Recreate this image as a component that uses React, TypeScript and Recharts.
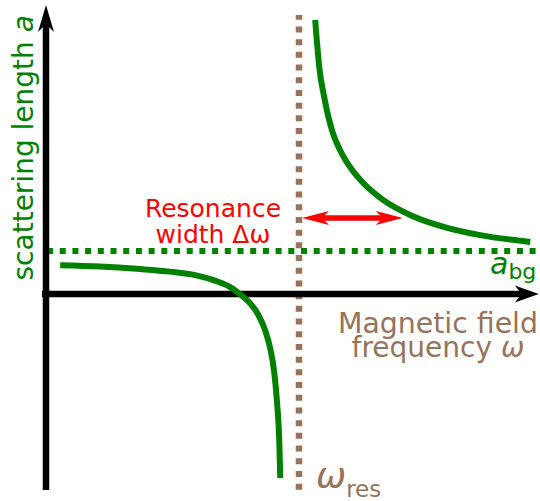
import { LineChart, Line, XAxis, YAxis, ReferenceLine, ReferenceDot } from "recharts";

const GREEN = "#008000";
const BROWN = "#96735a";
const RED = "#ff0000";
const FONT = "DejaVu Sans, Verdana, sans-serif";

// frequency ω (resonance at ω_res = 5), scattering length a (background a_bg = 1)
const OMEGA_RES = 5;
const A_BG = 1;

// branch below the resonance
const belowOmega = [
	0.28, 1.07, 1.86, 2.45, 2.95, 3.34, 3.64, 3.83, 4.03, 4.19, 4.33, 4.43, 4.51, 4.57, 4.61, 4.63,
];
const belowA = [
	0.67, 0.64, 0.58, 0.52, 0.44, 0.31, 0.16, 0.0, -0.21, -0.47, -0.84, -1.26, -1.81, -2.58, -3.4,
	-4.28,
];

// branch above the resonance
const aboveOmega = [5.32, 5.4, 5.51, 5.67, 5.81, 6.01, 6.27, 6.66, 7.25, 7.93, 8.58, 9.57];
const aboveA = [6.37, 5.28, 4.51, 3.74, 3.35, 2.95, 2.58, 2.19, 1.81, 1.54, 1.37, 1.21];

// resonance width arrow
const widthOmega = [5.06, 7.05];
const widthA = 1.77;

// extents of the drawn axes / guide lines
const omegaAxis = [-0.08, 9.74];
const aAxis = [-4.56, 6.72];
const bgLine = [0.02, 9.68];
const resLine = [-4.55, 6.49];

const X_DOMAIN: [number, number] = [-0.909, 9.763];
const Y_DOMAIN: [number, number] = [-4.814, 6.837];

const belowData = belowOmega.map((w, i) => ({ w, a: belowA[i] }));
const aboveData = aboveOmega.map((w, i) => ({ w, a: aboveA[i] }));

type Head = { len: number; half: number; notch: number };

function arrowShape(color: string, width: number, head: Head, both: boolean) {
	return (props: any) => {
		const { x1, y1, x2, y2 } = props;
		const dx = x2 - x1;
		const dy = y2 - y1;
		const d = Math.hypot(dx, dy) || 1;
		const ux = dx / d;
		const uy = dy / d;
		const nx = -uy;
		const ny = ux;
		const headAt = (tx: number, ty: number, sx: number, sy: number) =>
			[
				[tx, ty],
				[tx - sx * head.len + nx * head.half, ty - sy * head.len + ny * head.half],
				[tx - sx * head.notch, ty - sy * head.notch],
				[tx - sx * head.len - nx * head.half, ty - sy * head.len - ny * head.half],
			]
				.map((p) => p.join(","))
				.join(" ");
		const sx1 = both ? x1 + ux * head.notch : x1;
		const sy1 = both ? y1 + uy * head.notch : y1;
		return (
			<g>
				<line
					x1={sx1}
					y1={sy1}
					x2={x2 - ux * head.notch}
					y2={y2 - uy * head.notch}
					stroke={color}
					strokeWidth={width}
				/>
				<polygon points={headAt(x2, y2, ux, uy)} fill={color} />
				{both && <polygon points={headAt(x1, y1, -ux, -uy)} fill={color} />}
			</g>
		);
	};
}

const yLabel = (p: any) => (
	<text
		x={p.cx}
		y={p.cy}
		transform={`rotate(-90 ${p.cx} ${p.cy})`}
		textAnchor="middle"
		fill={GREEN}
		fontSize={28}
		fontFamily={FONT}
	>
		scattering length <tspan fontStyle="italic">a</tspan>
	</text>
);

const widthLabel = (p: any) => (
	<text x={p.cx} y={p.cy} textAnchor="middle" fill={RED} fontSize={25} fontFamily={FONT}>
		<tspan x={p.cx}>Resonance</tspan>
		<tspan x={p.cx} dy={26}>
			width Δω
		</tspan>
	</text>
);

const bgLabel = (p: any) => (
	<text x={p.cx} y={p.cy} fill={GREEN} fontFamily={FONT}>
		<tspan fontSize={30} fontStyle="italic">
			a
		</tspan>
		<tspan fontSize={22} dy={5}>
			bg
		</tspan>
	</text>
);

const fieldLabel = (p: any) => (
	<text x={p.cx} y={p.cy} textAnchor="middle" fill={BROWN} fontSize={28} fontFamily={FONT}>
		<tspan x={p.cx} textLength={200} lengthAdjust="spacingAndGlyphs">
			Magnetic field
		</tspan>
		<tspan x={p.cx} dy={24}>
			frequency <tspan fontStyle="italic">ω</tspan>
		</tspan>
	</text>
);

const resLabel = (p: any) => (
	<text x={p.cx} y={p.cy} fill={BROWN} fontFamily={FONT}>
		<tspan fontSize={36} fontStyle="italic">
			ω
		</tspan>
		<tspan fontSize={23} dy={9}>
			res
		</tspan>
	</text>
);

export default function App() {
	return (
		<div style={{ position: "fixed", left: 0, top: 0, width: 540, height: 501, background: "#fff" }}>
			<LineChart width={540} height={501} margin={{ top: 0, right: 0, bottom: 0, left: 0 }}>
				<XAxis type="number" dataKey="w" domain={X_DOMAIN} hide allowDataOverflow />
				<YAxis type="number" dataKey="a" domain={Y_DOMAIN} hide allowDataOverflow />

				<ReferenceLine
					segment={[
						{ x: OMEGA_RES, y: resLine[0] },
						{ x: OMEGA_RES, y: resLine[1] },
					]}
					stroke={BROWN}
					strokeWidth={6.5}
					strokeDasharray="6 6.7"
				/>
				<ReferenceLine
					segment={[
						{ x: bgLine[0], y: A_BG },
						{ x: bgLine[1], y: A_BG },
					]}
					stroke={GREEN}
					strokeWidth={6}
					strokeDasharray="6 6.7"
				/>
				<ReferenceLine
					segment={[
						{ x: 0, y: aAxis[0] },
						{ x: 0, y: aAxis[1] },
					]}
					shape={arrowShape("#000", 6.5, { len: 27, half: 8, notch: 19 }, false)}
				/>
				<ReferenceLine
					segment={[
						{ x: omegaAxis[0], y: 0 },
						{ x: omegaAxis[1], y: 0 },
					]}
					shape={arrowShape("#000", 6.5, { len: 24, half: 8.5, notch: 17 }, false)}
				/>

				<Line
					data={belowData}
					dataKey="a"
					type="monotone"
					stroke={GREEN}
					strokeWidth={6}
					strokeLinecap="butt"
					dot={false}
					activeDot={false}
					isAnimationActive={false}
				/>
				<Line
					data={aboveData}
					dataKey="a"
					type="monotone"
					stroke={GREEN}
					strokeWidth={6}
					strokeLinecap="butt"
					dot={false}
					activeDot={false}
					isAnimationActive={false}
				/>

				<ReferenceLine
					segment={[
						{ x: widthOmega[0], y: widthA },
						{ x: widthOmega[1], y: widthA },
					]}
					shape={arrowShape(RED, 5.5, { len: 27, half: 7, notch: 20 }, true)}
				/>

				<ReferenceDot x={-0.257} y={3.4} shape={yLabel} />
				<ReferenceDot x={3.3} y={1.79} shape={widthLabel} />
				<ReferenceDot x={8.775} y={0.465} shape={bgLabel} />
				<ReferenceDot x={7.747} y={-0.907} shape={fieldLabel} />
				<ReferenceDot x={5.336} y={-4.51} shape={resLabel} />
			</LineChart>
		</div>
	);
}
